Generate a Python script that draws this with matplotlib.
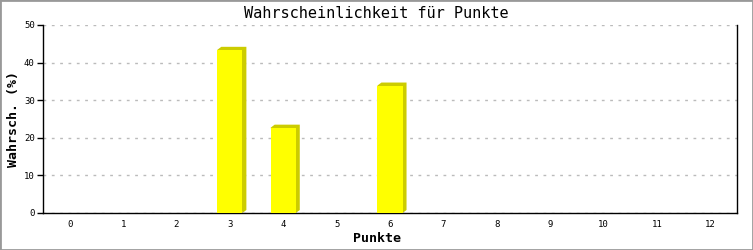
import matplotlib
matplotlib.use("Agg")
import matplotlib.pyplot as plt
from matplotlib.patches import Rectangle, Polygon

categories = list(range(13))
values = [0, 0, 0, 43.4, 22.7, 0, 33.9, 0, 0, 0, 0, 0, 0]
yticks = [0, 10, 20, 30, 40, 50]

W, H = 753, 250
fig = plt.figure(figsize=(W / 100, H / 100), dpi=100)
fig.patch.set_facecolor("white")
fig.add_artist(Rectangle((0, 0), 1, 1, transform=fig.transFigure, fill=False,
                         edgecolor="#999999", linewidth=2))

ax = fig.add_axes([43 / W, (H - 213) / H, (737 - 43) / W, (213 - 25) / H])
ax.set_xlim(-0.5, 12.5)
ax.set_ylim(0, 50)

bw = 0.47
dx = 4 / 53.4
dy = 3 / 3.76
bars = ax.bar(categories, values, width=bw, color="#ffff00", zorder=3, linewidth=0)
for b in bars:
    v = b.get_height()
    if v <= 0:
        continue
    xl = b.get_x()
    xr = xl + b.get_width()
    ax.add_patch(Polygon([(xl, v), (xl + dx, v + dy), (xr + dx, v + dy),
                          (xr + dx, dy), (xr, 0)], closed=True,
                         facecolor="#cccc00", edgecolor="none", zorder=2))

ax.set_yticks(yticks)
ax.set_xticks(categories)
ax.set_xticklabels([str(c) for c in categories])
ax.grid(axis="y", color="#bbbbbb", linestyle=(0, (2, 4)), linewidth=1, zorder=0)
ax.set_axisbelow(True)

mono = "DejaVu Sans Mono"
ax.tick_params(axis="x", length=0, pad=5, labelsize=6.5)
ax.tick_params(axis="y", length=4, direction="out", width=1, pad=2, labelsize=6.5)
for lab in ax.get_xticklabels() + ax.get_yticklabels():
    lab.set_fontfamily(mono)

ax.spines["top"].set_visible(False)
for s in ["left", "right", "bottom"]:
    ax.spines[s].set_color("black")
    ax.spines[s].set_linewidth(1)

fig.text(0.5, 1 - 13 / H, "Wahrscheinlichkeit für Punkte", ha="center", va="center",
         fontsize=11, family=mono)
fig.text(0.5, 1 - 239 / H, "Punkte", ha="center", va="center",
         fontsize=9.5, family=mono, fontweight="bold")
fig.text(14 / W, 1 - 119 / H, "Wahrsch. (%)", ha="center", va="center", rotation=90,
         fontsize=9.5, family=mono, fontweight="bold")

fig.savefig("out.png", dpi=100)
